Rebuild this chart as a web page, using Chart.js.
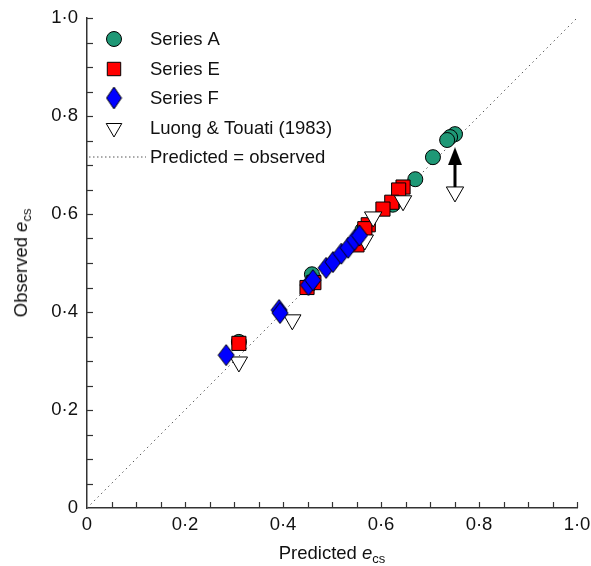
<!DOCTYPE html>
<html>
<head>
<meta charset="utf-8">
<script src="https://cdn.jsdelivr.net/npm/chart.js@4.4.0/dist/chart.umd.min.js"></script>
<style>
  html, body { margin: 0; padding: 0; background: #fff; }
  #wrap { position: relative; width: 591px; height: 566px; }
  .axis-title { position: absolute; font-family: "Liberation Sans", Arial, sans-serif; font-size: 18.5px; color: #111; white-space: nowrap; line-height: 22px; }
  .axis-title .sub { font-size: 13px; position: relative; top: 4px; }
  #xTitle { left: 332px; top: 542px; transform: translateX(-50%); }
  #yTitle { left: 22px; top: 263px; transform: translate(-50%, -50%) rotate(-90deg); }
</style>
</head>
<body>
<div id="wrap">
  <canvas id="chart" width="591" height="566"></canvas>
  <div class="axis-title" id="xTitle">Predicted <i>e</i><span class="sub">cs</span></div>
  <div class="axis-title" id="yTitle">Observed <i>e</i><span class="sub">cs</span></div>
</div>
<script>
// predicted (x) vs observed (y) e_cs
const seriesAX = [0.751, 0.741, 0.735, 0.706, 0.670, 0.624, 0.562, 0.459, 0.451, 0.310];
const seriesAY = [0.763, 0.757, 0.751, 0.716, 0.671, 0.619, 0.567, 0.477, 0.452, 0.339];

const seriesEX = [0.645, 0.636, 0.622, 0.604, 0.574, 0.567, 0.551, 0.463, 0.449, 0.310];
const seriesEY = [0.655, 0.649, 0.624, 0.610, 0.578, 0.570, 0.537, 0.460, 0.450, 0.336];

const seriesFX = [0.284, 0.392, 0.394, 0.452, 0.461, 0.488, 0.502, 0.519, 0.533, 0.546, 0.556];
const seriesFY = [0.312, 0.404, 0.398, 0.455, 0.465, 0.490, 0.502, 0.519, 0.531, 0.547, 0.556];

const luongX = [0.751, 0.645, 0.584, 0.567, 0.419, 0.310];
const luongY = [0.645, 0.627, 0.594, 0.547, 0.384, 0.298];

// arrow from the Luong point at 0.751 up to the corrected value
const arrowX = [0.751, 0.751];
const arrowY = [0.655, 0.708];
const arrowHeadAt = [0.751, 0.718];

const lineX = [0, 1];
const lineY = [0, 1];

const tickValues = [0, 0.2, 0.4, 0.6, 0.8, 1.0];

const legendLabels = ["Series A", "Series E", "Series F", "Luong & Touati (1983)", "Predicted = observed"];

const FONT = "'Liberation Sans', Arial, sans-serif";

function zip(xs, ys) {
  return xs.map((x, i) => ({ x, y: ys[i] }));
}

function makeDiamond(w, h, fill) {
  const c = document.createElement("canvas");
  c.width = w + 2;
  c.height = h + 2;
  const g = c.getContext("2d");
  g.beginPath();
  g.moveTo(c.width / 2, 1);
  g.lineTo(c.width - 1, c.height / 2);
  g.lineTo(c.width / 2, c.height - 1);
  g.lineTo(1, c.height / 2);
  g.closePath();
  g.fillStyle = fill;
  g.fill();
  g.lineWidth = 1;
  g.strokeStyle = "#000";
  g.stroke();
  return c;
}

function makeArrowHead(w, h) {
  const c = document.createElement("canvas");
  c.width = w;
  c.height = h;
  const g = c.getContext("2d");
  g.beginPath();
  g.moveTo(w / 2, 0);
  g.lineTo(w, h);
  g.lineTo(0, h);
  g.closePath();
  g.fillStyle = "#000";
  g.fill();
  return c;
}

const green = "#1f9876";
const diamond = makeDiamond(16, 21, "#0000ff");
const arrowHead = makeArrowHead(14, 18);

function fmt(v) {
  if (v === 0) return "0";
  return v.toFixed(1).replace(".", "\u00b7");
}

const minorTicks = {
  id: "minorTicks",
  afterDraw(chart) {
    const { ctx, scales: { x, y } } = chart;
    ctx.save();
    ctx.strokeStyle = "#333";
    ctx.lineWidth = 1.2;
    for (let i = 1; i <= 20; i++) {
      const v = i / 20;
      const px = Math.round(x.getPixelForValue(v)) + 0.5;
      ctx.beginPath();
      ctx.moveTo(px, y.bottom);
      ctx.lineTo(px, y.bottom - 6);
      ctx.stroke();
      const py = Math.round(y.getPixelForValue(v)) + 0.5;
      ctx.beginPath();
      ctx.moveTo(x.left, py);
      ctx.lineTo(x.left + 6, py);
      ctx.stroke();
    }
    ctx.restore();
  }
};

const boxLegend = {
  id: "boxLegend",
  afterDraw(chart) {
    const ctx = chart.ctx;
    const markX = 114;
    const textX = 150;
    const rows = [39, 69, 98, 128, 157];
    ctx.save();
    ctx.lineWidth = 1;
    ctx.strokeStyle = "#000";

    ctx.fillStyle = green;
    Chart.helpers.drawPoint(ctx, { pointStyle: "circle", radius: 7.5, borderWidth: 1 }, markX, rows[0]);
    ctx.fillStyle = "#ff0000";
    Chart.helpers.drawPoint(ctx, { pointStyle: "rect", radius: 9.5, borderWidth: 1 }, markX, rows[1]);
    Chart.helpers.drawPoint(ctx, { pointStyle: makeDiamond(15, 22, "#0000ff"), radius: 8 }, markX, rows[2]);
    ctx.fillStyle = "#fff";
    Chart.helpers.drawPoint(ctx, { pointStyle: "triangle", radius: 9, rotation: 180, borderWidth: 1 }, markX, rows[3]);

    ctx.strokeStyle = "#555";
    ctx.setLineDash([1.5, 2.5]);
    ctx.beginPath();
    ctx.moveTo(89, rows[4]);
    ctx.lineTo(146, rows[4]);
    ctx.stroke();
    ctx.setLineDash([]);

    ctx.fillStyle = "#111";
    ctx.font = "18.5px " + FONT;
    ctx.textBaseline = "middle";
    legendLabels.forEach((t, i) => ctx.fillText(t, textX, rows[i] + 1));
    ctx.restore();
  }
};

new Chart(document.getElementById("chart"), {
  type: "scatter",
  data: {
    datasets: [
      {
        label: legendLabels[4],
        data: zip(lineX, lineY),
        showLine: true,
        borderColor: "#555",
        borderWidth: 1,
        borderDash: [1.5, 3.5],
        pointRadius: 0,
        order: 9
      },
      {
        label: legendLabels[0],
        data: zip(seriesAX, seriesAY),
        pointStyle: "circle",
        pointRadius: 7.5,
        backgroundColor: green,
        borderColor: "#000",
        borderWidth: 1,
        order: 5
      },
      {
        label: legendLabels[1],
        data: zip(seriesEX, seriesEY),
        pointStyle: "rect",
        pointRadius: 10,
        backgroundColor: "#ff0000",
        borderColor: "#000",
        borderWidth: 1,
        order: 4
      },
      {
        label: legendLabels[3],
        data: zip(luongX, luongY),
        pointStyle: "triangle",
        pointRotation: 180,
        pointRadius: 10,
        backgroundColor: "#fff",
        borderColor: "#000",
        borderWidth: 1,
        order: 3
      },
      {
        label: legendLabels[2],
        data: zip(seriesFX, seriesFY),
        pointStyle: diamond,
        pointRadius: 8,
        order: 2
      },
      {
        label: "arrow",
        data: zip(arrowX, arrowY),
        showLine: true,
        borderColor: "#000",
        borderWidth: 3,
        pointRadius: 0,
        order: 1
      },
      {
        label: "arrow head",
        data: [{ x: arrowHeadAt[0], y: arrowHeadAt[1] }],
        pointStyle: arrowHead,
        pointRadius: 8,
        order: 0
      }
    ]
  },
  options: {
    responsive: false,
    animation: false,
    events: [],
    layout: { padding: { top: 18, right: 14, left: 0, bottom: 0 } },
    plugins: {
      legend: { display: false },
      tooltip: { enabled: false }
    },
    scales: {
      x: {
        type: "linear",
        min: 0,
        max: 1,
        afterFit: (s) => { s.height = 58; s.paddingLeft = 0; s.paddingRight = 0; },
        afterBuildTicks: (s) => { s.ticks = tickValues.map(v => ({ value: v })); },
        grid: { drawOnChartArea: false, drawTicks: false },
        border: { display: true, color: "#333", width: 1.5 },
        ticks: {
          callback: fmt,
          color: "#111",
          padding: 6,
          maxRotation: 0,
          font: { family: FONT, size: 18.5 }
        }
      },
      y: {
        type: "linear",
        min: 0,
        max: 1,
        afterFit: (s) => { s.width = 87; s.paddingTop = 0; s.paddingBottom = 0; },
        afterBuildTicks: (s) => { s.ticks = tickValues.map(v => ({ value: v })); },
        grid: { drawOnChartArea: false, drawTicks: false },
        border: { display: true, color: "#333", width: 1.5 },
        ticks: {
          callback: fmt,
          color: "#111",
          padding: 9,
          font: { family: FONT, size: 18.5 }
        }
      }
    }
  },
  plugins: [minorTicks, boxLegend]
});
</script>
</body>
</html>
